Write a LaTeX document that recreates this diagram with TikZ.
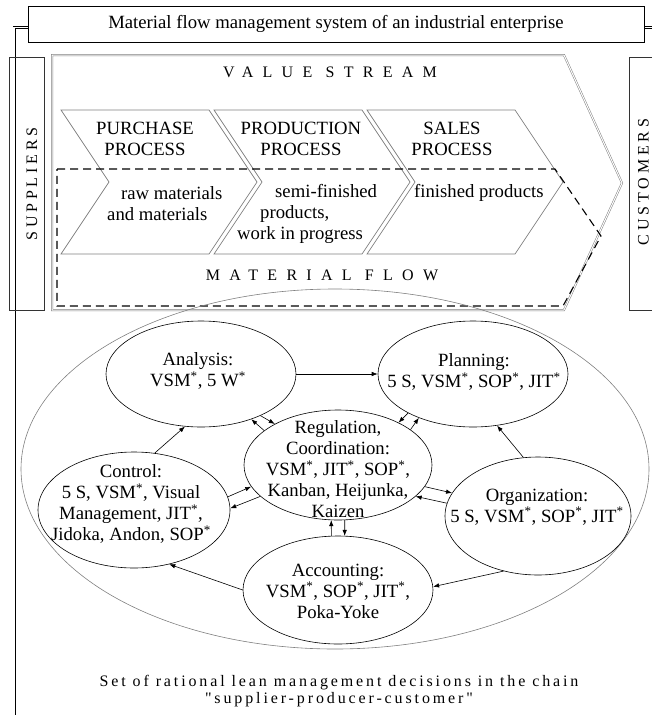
\documentclass[tikz,border=0pt]{standalone}
\usepackage{fontspec}
\setmainfont{Liberation Serif}
\newfontfamily\widefont[LetterSpace=58]{Liberation Serif}
\newfontfamily\sidefont[LetterSpace=24]{Liberation Serif}
\newfontfamily\capfont[LetterSpace=18]{Liberation Serif}
\usetikzlibrary{arrows.meta,shapes.geometric}
\newcommand{\st}{\textsuperscript{*}}
\begin{document}
\begin{tikzpicture}[x=1pt,y=-1pt,
  every node/.style={font=\fontsize{18.7}{21}\selectfont, inner sep=0pt, align=center},
  bub/.style={draw, ellipse, line width=0.6pt},
  chev/.style={draw=gray, line width=0.7pt},
  arr/.style={-{Latex[length=6pt,width=4.5pt]}, line width=0.6pt}]
\useasboundingbox (0,0) rectangle (652,715);
\clip (0,0) rectangle (652,715);
\draw[double, double distance=1.8pt, line width=0.6pt] (680,27.5) -- (14.3,27.5) -- (14.3,740);
\node[draw, fill=white, line width=0.7pt, minimum width=616, minimum height=36] (ttl) at (336,24) {Material flow management system of an industrial enterprise};
\node[draw=black!80, line width=0.7pt, minimum width=35, minimum height=253] (sup) at (26.8,183.5) {};
\node[rotate=90, font=\fontsize{16}{18}\sidefont] (sup-t) at (32,184) {SUPPLIERS};
\node[draw=black!80, line width=0.7pt, minimum width=60, minimum height=253] (cus) at (659.7,183.5) {};
\node[rotate=90, font=\fontsize{16}{18}\sidefont] (cus-t) at (643.5,182) {CUSTOMERS};
\draw[gray, double, double distance=1pt, line width=0.5pt] (52,55) -- (564,55) -- (622,183) -- (564,310) -- (52,310) -- cycle;
\node[font=\fontsize{16}{18}\widefont] (vs) at (330,72) {VALUE STREAM};
\draw[chev] (61,110) -- (209,110) -- (257,182) -- (209,254) -- (61,254) -- (109,182) -- cycle;
\draw[chev] (214,110) -- (362,110) -- (410,182) -- (362,254) -- (214,254) -- (262,182) -- cycle;
\draw[chev] (367,110) -- (515,110) -- (563,182) -- (515,254) -- (367,254) -- (415,182) -- cycle;
\node (pur) at (145,139) {PURCHASE\\PROCESS};
\node (pro) at (301,139) {PRODUCTION\\PROCESS};
\node (sal) at (452,139) {SALES\\PROCESS};
\node[anchor=west, align=left] (pur-m) at (107,204) {\hspace{14pt}raw materials\\and materials};
\node[anchor=west, align=left] (pro-m) at (237,214) {\hspace{38pt}semi-finished\\\hspace{23pt}products,\\work in progress};
\node[anchor=west] (sal-m) at (414,193) {finished products};
\draw[dashed, dash pattern=on 8pt off 5pt, line width=1.1pt] (57,169) -- (555,169) -- (601,236) -- (563,306) -- (57,306) -- cycle;
\node[font=\fontsize{16}{18}\widefont] (mf) at (322,275) {MATERIAL FLOW};
\draw[gray, line width=0.6pt] (335,469) ellipse [x radius=314, y radius=180];
\node[bub, minimum width=190, minimum height=106] (anl) at (201,374) {};
\node[bub, minimum width=190, minimum height=106] (pln) at (473,374) {};
\node[bub, minimum width=188, minimum height=110] (reg) at (338,465) {};
\node[bub, minimum width=192, minimum height=116] (ctl) at (134,510) {};
\node[bub, minimum width=186, minimum height=118] (org) at (538,516) {};
\node[bub, minimum width=190, minimum height=108] (acc) at (338,590) {};
\node (anl-t) at (198,371) {Analysis:\\VSM\st, 5 W\st};
\node (pln-t) at (474,372) {Planning:\\5 S, VSM\st, SOP\st, JIT\st};
\node (reg-t) at (338,469) {Regulation,\\Coordination:\\VSM\st, JIT\st, SOP\st,\\Kanban, Heijunka,\\Kaizen};
\node (ctl-t) at (131,504) {Control:\\5 S, VSM\st, Visual\\Management, JIT\st,\\Jidoka, Andon, SOP\st};
\node (org-t) at (537,507) {Organization:\\5 S, VSM\st, SOP\st, JIT\st};
\node (acc-t) at (338,591) {Accounting:\\VSM\st, SOP\st, JIT\st,\\Poka-Yoke};
\draw[arr] (anl.east) -- (pln.west);
\draw[arr] (ctl.70) -- (anl.253);
\draw[arr] (anl.-35) -- (reg.147);
\draw[arr] (reg.155) -- (anl.-42);
\draw[arr] (pln.211) -- (reg.35);
\draw[arr] (reg.26) -- (pln.219);
\draw[arr] (ctl.8) -- (reg.194);
\draw[arr] (reg.202) -- (ctl.1);
\draw[arr] (reg.-14) -- (org.165);
\draw[arr] (org.172) -- (reg.-22);
\draw[arr] (acc.97) -- (reg.263);
\draw[arr] (reg.-83) -- (acc.83);
\draw[arr] (org.104) -- (pln.-65);
\draw[arr] (org.238) -- (acc.2);
\draw[arr] (acc.180) -- (ctl.-57);
\node[font=\fontsize{16}{17}\capfont] (cap) at (339,691) {Set of rational lean management decisions in the chain\\"supplier-producer-customer"};
\end{tikzpicture}
\end{document}
